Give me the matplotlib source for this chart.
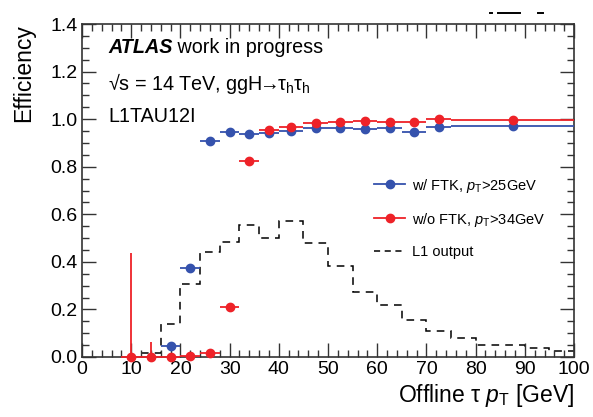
import numpy as np
import matplotlib
matplotlib.use("Agg")
import matplotlib.pyplot as plt
from matplotlib.lines import Line2D

plt.rcParams['font.family'] = ['Liberation Sans', 'DejaVu Sans']
plt.rcParams['mathtext.fontset'] = 'custom'
plt.rcParams['mathtext.rm'] = 'Liberation Sans'
plt.rcParams['mathtext.it'] = 'Liberation Sans:italic'
plt.rcParams['mathtext.bf'] = 'Liberation Sans:bold'

# ---------------- data ----------------
# w/ FTK (blue)
blue_lo = [16, 20, 24, 28, 32, 36, 40, 45, 50, 55, 60, 65, 70, 75]
blue_hi = [20, 24, 28, 32, 36, 40, 45, 50, 55, 60, 65, 70, 75, 100]
blue_eff = [0.048, 0.373, 0.909, 0.945, 0.938, 0.942, 0.952, 0.961, 0.962,
            0.958, 0.961, 0.945, 0.965, 0.972]
blue_err = [0.012, 0.02, 0.012, 0.008, 0.008, 0.006, 0.006, 0.005, 0.005,
            0.005, 0.005, 0.006, 0.006, 0.004]

# w/o FTK (red)
red_lo = [8, 12, 16, 20, 24, 28, 32, 36, 40, 45, 50, 55, 60, 65, 70, 75]
red_hi = [12, 16, 20, 24, 28, 32, 36, 40, 45, 50, 55, 60, 65, 70, 75, 100]
red_eff = [0.0, 0.0, 0.0, 0.003, 0.015, 0.209, 0.826, 0.954, 0.968, 0.985,
           0.986, 0.992, 0.989, 0.989, 1.0, 0.996]
red_err_up = [0.436, 0.064, 0.008, 0.008, 0.01, 0.015, 0.012, 0.006, 0.005,
              0.004, 0.004, 0.003, 0.003, 0.003, 0.0, 0.003]

# L1 output (normalised histogram)
l1_edges = [12, 16, 20, 24, 28, 32, 36, 40, 45, 50, 55, 60, 65, 70, 75, 80,
            90, 95, 100]
l1_vals = [0.018, 0.14, 0.305, 0.441, 0.484, 0.553, 0.499, 0.571, 0.478,
           0.381, 0.274, 0.218, 0.155, 0.111, 0.081, 0.05, 0.036, 0.026]

blue_c = '#3552ad'
red_c = '#ee2228'

# ---------------- figure ----------------
fig = plt.figure(figsize=(5.93, 4.17), dpi=100)
ax = fig.add_axes([0.1383, 0.1439, 0.8297, 0.7985])

ax.stairs(l1_vals, l1_edges, baseline=None, color='black', lw=1.1,
          linestyle=(0, (5, 4)), zorder=1)

def draw(lo, hi, eff, elo, ehi, color, z):
    lo = np.array(lo, float); hi = np.array(hi, float)
    eff = np.array(eff, float)
    x = 0.5 * (lo + hi)
    xerr = np.vstack([x - lo, hi - x])
    yerr = np.vstack([np.minimum(elo, eff), ehi])
    ax.errorbar(x, eff, xerr=xerr, yerr=yerr, fmt='o', color=color, ms=6,
                elinewidth=1.3, capsize=0, zorder=z, clip_on=False)

draw(blue_lo, blue_hi, blue_eff, np.array(blue_err), np.array(blue_err),
     blue_c, 3)
draw(red_lo, red_hi, red_eff, np.zeros(len(red_eff)), np.array(red_err_up),
     red_c, 4)

ax.set_xlim(0, 100)
ax.set_ylim(0, 1.4)
ax.set_xticks(np.arange(0, 101, 10))
ax.set_xticks(np.arange(0, 101, 2), minor=True)
ax.set_yticks(np.arange(0, 1.41, 0.2))
ax.set_yticks(np.arange(0, 1.41, 0.05), minor=True)
ax.set_yticklabels([f"{v:.1f}" for v in np.arange(0, 1.41, 0.2)])
ax.tick_params(which='both', direction='in', top=True, right=True,
               labelsize=14, color='#333333')
ax.tick_params(which='major', length=10, width=1.0, pad=3)
ax.tick_params(which='minor', length=5, width=1.0)
for s in ax.spines.values():
    s.set_linewidth(1.2)
    s.set_color('#333333')

ax.set_xlabel(r"Offline τ $p_\mathrm{T}$ [GeV]", fontsize=16.5, loc='right',
              labelpad=3)
ax.set_ylabel("Efficiency", fontsize=16.5, loc='top', labelpad=11)

# labels
t1 = ax.text(0.053, 0.914, "ATLAS", transform=ax.transAxes, fontsize=14.2,
             fontweight='bold', fontstyle='italic', va='baseline')
ax.annotate(" work in progress", xy=(1, 0), xycoords=t1, fontsize=14.2,
            va='bottom')
ax.text(0.053, 0.802,
        r"√s = 14 TeV, ggH$\!\!\rightarrow\!\!\mathrm{τ}_\mathrm{h}\mathrm{τ}_\mathrm{h}$",
        transform=ax.transAxes, fontsize=14.2, va='baseline')
ax.text(0.053, 0.707, "L1TAU12I", transform=ax.transAxes, fontsize=14.2,
        va='baseline')

handles = [
    Line2D([], [], color=blue_c, marker='o', ms=6, lw=1.3),
    Line2D([], [], color=red_c, marker='o', ms=6, lw=1.3),
    Line2D([], [], color='black', lw=1.1, linestyle=(0, (4, 3))),
]
labels = [r"w/ FTK, $p_\mathrm{T}$>25GeV", r"w/o FTK, $p_\mathrm{T}$>34GeV",
          "L1 output"]
ax.legend(handles, labels, loc='upper left', bbox_to_anchor=(0.594, 0.542),
          frameon=False, fontsize=10.5, handlelength=2.1, handletextpad=0.5,
          labelspacing=1.1, borderpad=0, borderaxespad=0)

# small leftover marks above the frame
for (x0, x1) in [(0.826, 0.829), (0.840, 0.877), (0.907, 0.916)]:
    fig.add_artist(Line2D([x0, x1], [0.969, 0.969], color='black', lw=1.4,
                          transform=fig.transFigure))

fig.savefig("out.png", dpi=100)
